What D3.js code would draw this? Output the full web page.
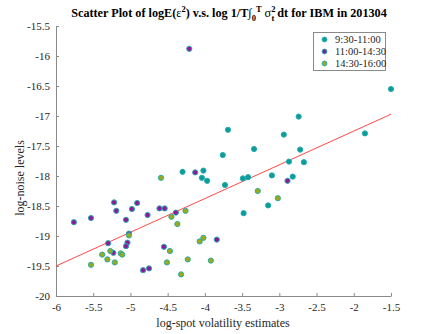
<!DOCTYPE html>
<html>
<head>
<meta charset="utf-8">
<script src="https://d3js.org/d3.v7.min.js"></script>
<style>
  body { margin: 0; background: #fff; }
  text { font-family: "Liberation Serif", "Times New Roman", serif; }
</style>
</head>
<body>
<svg width="432" height="334"></svg>
<script>
// series: [log-spot volatility, log-noise level]
var morning = [
  [-1.50, -16.55], [-2.74, -17.01], [-2.94, -17.31], [-1.85, -17.29], [-3.34, -17.55],
  [-2.72, -17.56], [-2.87, -17.76], [-2.67, -17.77], [-3.49, -18.04], [-3.42, -18.02],
  [-3.10, -17.99], [-2.82, -18.01], [-3.15, -18.49], [-3.48, -18.62], [-3.69, -17.23],
  [-3.76, -17.65], [-3.73, -18.15], [-3.97, -18.08], [-4.04, -18.03], [-4.02, -17.91],
  [-4.30, -17.93]
];
var midday = [
  [-4.21, -15.88], [-2.89, -18.08], [-4.13, -17.94], [-5.76, -18.77], [-5.53, -18.70],
  [-5.22, -18.44], [-5.19, -18.58], [-4.91, -18.45], [-4.98, -18.55], [-5.06, -18.73],
  [-4.77, -18.65], [-4.61, -18.54], [-4.54, -18.54], [-4.39, -18.61], [-5.02, -18.96],
  [-5.04, -19.11], [-5.06, -19.17], [-5.30, -19.12], [-5.23, -19.28], [-4.83, -19.57],
  [-4.75, -19.54], [-4.55, -19.18], [-3.84, -19.06]
];
var afternoon = [
  [-3.29, -18.25], [-3.02, -18.37], [-4.59, -18.03], [-4.26, -18.58], [-4.45, -18.68],
  [-4.37, -18.80], [-5.02, -18.99], [-5.27, -19.25], [-5.38, -19.31], [-5.31, -19.39],
  [-5.53, -19.48], [-5.21, -19.44], [-5.13, -19.29], [-5.11, -19.31], [-4.47, -19.25],
  [-4.51, -19.44], [-4.32, -19.64], [-4.23, -19.39], [-4.07, -19.09], [-4.02, -19.03],
  [-3.92, -19.41]
];
var seriesNames = ["9:30-11:00", "11:00-14:30", "14:30-16:00"];
var fitLine = [[-6, -19.5], [-1.5, -16.97]];
var xTicks = [-6, -5.5, -5, -4.5, -4, -3.5, -3, -2.5, -2, -1.5];
var yTicks = [-15.5, -16, -16.5, -17, -17.5, -18, -18.5, -19, -19.5, -20];

var fills = ["#0a9c9c", "#8c1a9c", "#9aab14"];
var edge = "#2aabab";

var svg = d3.select("svg");
var x = d3.scaleLinear().domain([-6, -1.5]).range([56, 391]);
var y = d3.scaleLinear().domain([-20, -15.5]).range([296, 26]);

// axes (ticks pointing inward)
var xAxis = svg.append("g")
  .attr("transform", "translate(0,296)")
  .call(d3.axisBottom(x).tickValues(xTicks).tickSizeInner(-3).tickSizeOuter(0).tickPadding(7)
    .tickFormat(function (d) { return d; }));
var yAxis = svg.append("g")
  .attr("transform", "translate(56,0)")
  .call(d3.axisLeft(y).tickValues(yTicks).tickSizeInner(-3).tickSizeOuter(0).tickPadding(6)
    .tickFormat(function (d) { return d; }));
[xAxis, yAxis].forEach(function (a) {
  a.select(".domain").attr("stroke", "#8a8a8a");
  a.selectAll(".tick line").attr("stroke", "#8a8a8a");
  a.selectAll(".tick text").attr("fill", "#262626")
    .style("font-family", "'Liberation Serif', serif").style("font-size", "11px");
});

// fit line
svg.append("line")
  .attr("x1", x(fitLine[0][0])).attr("y1", y(fitLine[0][1]))
  .attr("x2", x(fitLine[1][0])).attr("y2", y(fitLine[1][1]))
  .attr("stroke", "#ff2a2a").attr("stroke-width", 1).attr("opacity", 0.85);

// points
[morning, midday, afternoon].forEach(function (data, i) {
  svg.append("g").selectAll("circle")
    .data(data)
    .enter().append("circle")
    .attr("cx", function (d) { return x(d[0]); })
    .attr("cy", function (d) { return y(d[1]); })
    .attr("r", 2.6)
    .attr("fill", fills[i])
    .attr("stroke", edge)
    .attr("stroke-width", 1);
});

// legend
var lg = svg.append("g");
lg.append("rect").attr("x", 313.5).attr("y", 32.5).attr("width", 72).attr("height", 38)
  .attr("fill", "#fff").attr("stroke", "#8a8a8a").attr("stroke-width", 1);
seriesNames.forEach(function (name, i) {
  var yy = 39.5 + i * 12;
  lg.append("circle").attr("cx", 324.5).attr("cy", yy).attr("r", 2.4)
    .attr("fill", fills[i]).attr("stroke", edge).attr("stroke-width", 1);
  lg.append("text").attr("x", 335).attr("y", yy + 3.5).attr("fill", "#262626")
    .style("font-size", "10.5px").text(name);
});

// title
var title = svg.append("text").attr("x", 229).attr("y", 17).attr("text-anchor", "middle")
  .style("font-family", "'Liberation Serif', serif")
  .style("font-size", "12.2px").style("font-weight", "bold").attr("fill", "#000");
title.append("tspan").text("Scatter Plot of logE(");
title.append("tspan").style("font-weight", "normal").text("\u03b5");
title.append("tspan").attr("dy", -5).style("font-size", "8.5px").text("2");
title.append("tspan").attr("dy", 5).text(") v.s. log 1/T");
title.append("tspan").style("font-weight", "normal").text("\u222B");
title.append("tspan").attr("dy", 4).style("font-size", "8.5px").text("0");
title.append("tspan").attr("dy", -9).style("font-size", "8.5px").text("T");
title.append("tspan").attr("dy", 5).style("font-weight", "normal").text(" \u03c3");
title.append("tspan").attr("dy", -5).style("font-size", "8.5px").text("2");
title.append("tspan").attr("dx", -4).attr("dy", 9).style("font-size", "8.5px").text("t");
title.append("tspan").attr("dy", -4).text(" dt for IBM in 201304");

// axis labels
svg.append("text").attr("x", 223).attr("y", 327).attr("text-anchor", "middle")
  .attr("fill", "#262626").style("font-size", "12px").text("log-spot volatility estimates");
svg.append("text").attr("transform", "translate(24,178) rotate(-90)").attr("text-anchor", "middle")
  .attr("fill", "#262626").style("font-size", "12px").text("log-noise levels");
</script>
</body>
</html>
